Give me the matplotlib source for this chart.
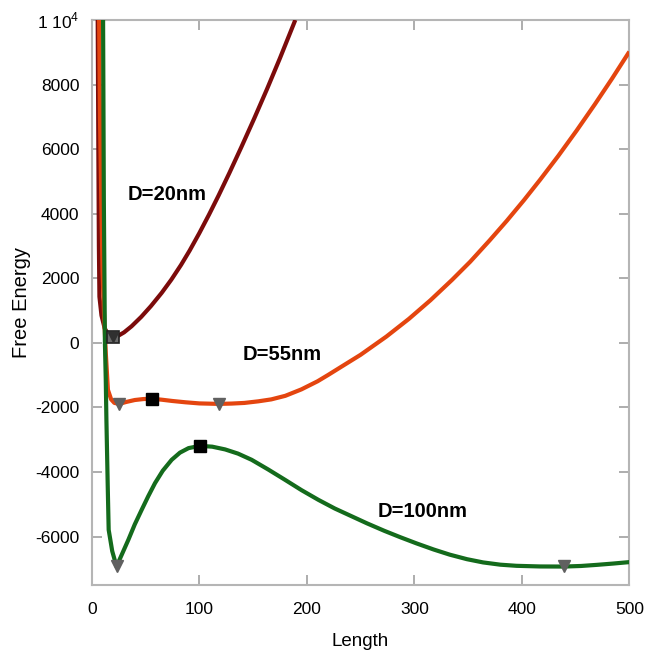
import matplotlib
matplotlib.use("Agg")
import matplotlib.pyplot as plt

plt.rcParams['font.family'] = ['Liberation Sans', 'DejaVu Sans']
plt.rcParams['mathtext.fontset'] = 'custom'
plt.rcParams['mathtext.rm'] = 'Liberation Sans'

# D = 20 nm
x20 = [5.5, 6.1, 6.6, 7.1, 9, 12, 15.5, 19.7, 25, 30, 37, 46, 55, 65, 74, 83, 91, 100,
       109, 118, 128, 139, 151, 163, 175, 189.3]
y20 = [10000, 6000, 3000, 1430, 850, 450, 250, 190, 228, 325, 514, 806, 1139, 1549, 1959,
       2414, 2858, 3398, 3970, 4569, 5264, 6056, 6944, 7862, 8816, 10000]

# D = 55 nm
x55 = [6.8, 7.6, 8.8, 10, 11.5, 13, 15, 18, 21, 25.6, 32, 40, 48, 55.7, 65, 75, 87, 100,
       118, 130, 142, 155, 167, 180, 195, 210, 220, 234, 250, 274, 295, 315, 335, 352,
       370, 386, 402, 417, 434, 451, 468, 484, 500]
y55 = [10000, 7000, 4430, 2200, 800, -300, -1455, -1750, -1860, -1890, -1830, -1770,
       -1740, -1730, -1760, -1800, -1840, -1875, -1890, -1880, -1860, -1810, -1750, -1640,
       -1440, -1190, -990, -700, -370, 195, 744, 1320, 1948, 2514, 3172, 3780, 4421, 5052,
       5795, 6577, 7392, 8189, 9019]

# D = 100 nm
x100 = [10.5, 11.2, 12.2, 13, 13.6, 14.8, 15.7, 19, 23, 26, 30, 34, 40, 46.4, 52.5, 58.8,
        66, 74.3, 82, 90, 100.6, 112, 124, 136, 148.7, 164, 179.7, 195, 210.7, 226, 241,
        256, 272, 287, 302, 318, 333, 349, 364, 380, 395, 417, 439, 455, 470, 485, 500]
y100 = [10000, 4430, 0, -1150, -2400, -4400, -5790, -6450, -6925, -6700, -6400, -6100,
        -5620, -5170, -4750, -4344, -3960, -3622, -3400, -3260, -3190, -3215, -3300, -3430,
        -3622, -3920, -4241, -4560, -4861, -5130, -5360, -5590, -5820, -6020, -6210, -6400,
        -6560, -6700, -6800, -6870, -6905, -6925, -6928, -6910, -6875, -6835, -6790]

# markers (maxima = squares, minima = triangles)
max_x = [55.7, 100.6]
max_y = [-1734, -3190]
min_x = [25.6, 118, 23, 439]
min_y = [-1890, -1890, -6925, -6925]
crit20_x = [19.5]
crit20_y = [190]

labels = ["D=20nm", "D=55nm", "D=100nm"]
label_x = [70, 177, 308]
label_y = [4580, -370, -5220]

yticks = [-6000, -4000, -2000, 0, 2000, 4000, 6000, 8000, 10000]
ytick_labels = ["-6000", "-4000", "-2000", "0", "2000", "4000", "6000", "8000",
                r"1 10$^{\mathregular{4}}$"]
xticks = [0, 100, 200, 300, 400, 500]

fig = plt.figure(figsize=(6.46, 6.60), dpi=100)
ax = fig.add_axes([0.1421, 0.1136, 0.8321, 0.8561])

c20 = '#7c0b0b'
c55 = '#e4450f'
c100 = '#146b1c'

ax.plot(x20, y20, color=c20, lw=3, solid_capstyle='butt', solid_joinstyle='round', zorder=3)
ax.plot(x55, y55, color=c55, lw=3, solid_capstyle='butt', solid_joinstyle='round', zorder=3)
ax.plot(x100, y100, color=c100, lw=3, solid_capstyle='butt', solid_joinstyle='round', zorder=3)

ax.plot(max_x, max_y, linestyle='none', marker='s', markersize=9, color='black', zorder=5)
ax.plot(min_x, min_y, linestyle='none', marker='v', markersize=8, color='#606060', zorder=5)
ax.plot(crit20_x, crit20_y, linestyle='none', marker='s', markersize=9,
        markerfacecolor='#6a6a6a', markeredgecolor='#202020', markeredgewidth=1.2, zorder=5)
ax.plot(crit20_x, crit20_y, linestyle='none', marker='v', markersize=7,
        color='#303030', zorder=6)

for t, lx, ly in zip(labels, label_x, label_y):
    ax.text(lx, ly, t, fontsize=14.5, fontweight='bold', ha='center', va='center')

ax.set_xlim(0, 500)
ax.set_ylim(-7500, 10000)
ax.set_xticks(xticks)
ax.set_xticklabels([str(v) for v in xticks])
ax.set_yticks(yticks)
ax.set_yticklabels(ytick_labels)

for s in ax.spines.values():
    s.set_color('#b5b5b5')
    s.set_linewidth(1.5)

ax.tick_params(axis='both', direction='in', length=7, width=1.2, color='#a0a0a0',
               labelsize=12.5, top=True, right=True)
ax.tick_params(axis='y', pad=9)
ax.tick_params(axis='x', pad=12)

ax.set_xlabel("Length", fontsize=13.5, labelpad=12)
ax.set_ylabel("Free Energy", fontsize=14.5, labelpad=3)

fig.savefig("out.png", dpi=100)
